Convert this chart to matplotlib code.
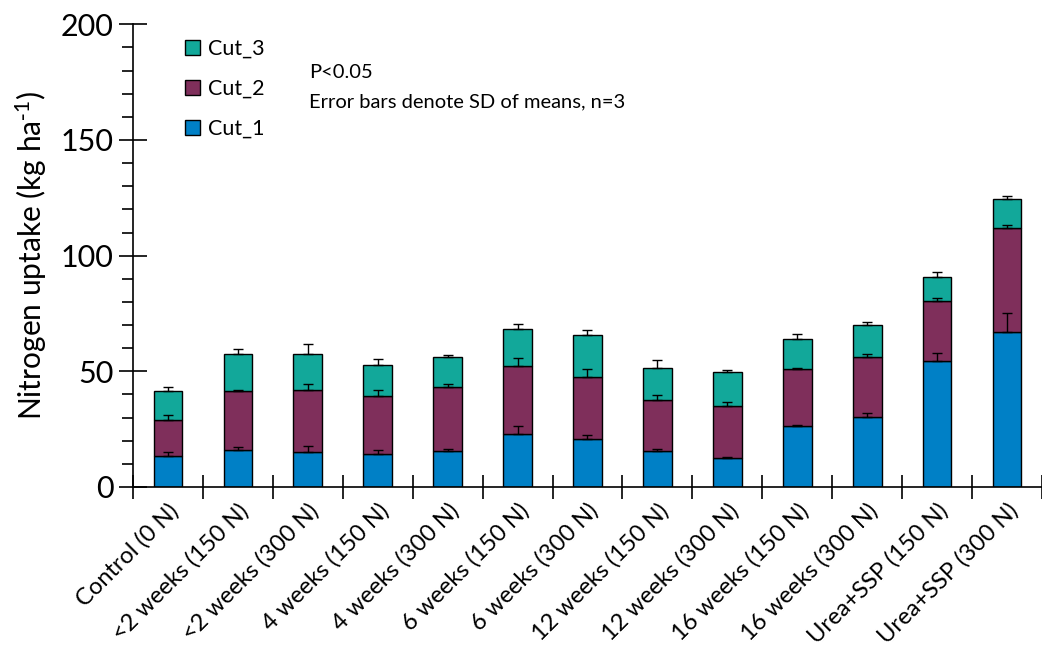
import numpy as np
import matplotlib.pyplot as plt
from matplotlib.ticker import MultipleLocator

plt.rcParams['font.family'] = ['Lato', 'DejaVu Sans']
plt.rcParams['mathtext.default'] = 'regular'

categories = ['Control (0 N)', '<2 weeks (150 N)', '<2 weeks (300 N)',
              '4 weeks (150 N)', '4 weeks (300 N)', '6 weeks (150 N)',
              '6 weeks (300 N)', '12 weeks (150 N)', '12 weeks (300 N)',
              '16 weeks (150 N)', '16 weeks (300 N)', 'Urea+SSP (150 N)',
              'Urea+SSP (300 N)']

# values per cut
cut1 = [13.3, 16.2, 15.3, 14.4, 15.7, 22.9, 20.9, 15.4, 12.4, 26.5, 30.4, 54.5, 67.2]
cut2 = [15.8, 25.3, 26.8, 25.1, 27.7, 29.6, 26.8, 22.4, 22.5, 24.4, 25.6, 26.1, 44.6]
cut3 = [12.4, 15.9, 15.2, 13.4, 13.0, 15.8, 17.8, 13.5, 14.6, 13.0, 14.2, 10.2, 12.6]
sd1 = [1.8, 1.0, 2.2, 1.8, 0.9, 3.4, 1.5, 1.0, 0.7, 0.2, 1.5, 3.5, 8.2]
sd2 = [2.0, 0.6, 2.2, 2.5, 0.9, 3.3, 3.3, 1.9, 1.9, 0.6, 1.4, 1.2, 1.3]
sd3 = [1.9, 2.3, 4.3, 2.6, 0.7, 2.2, 2.3, 3.5, 1.0, 2.1, 1.0, 2.2, 1.2]

colors = ['#0080c6', '#7f2f5b', '#12a89a']

fig = plt.figure(figsize=(10.42, 6.5), dpi=100)
ax = fig.add_axes([0.1276, 0.2508, 0.8724, 0.7118])

x = np.arange(len(categories))
w = 0.41
b1 = np.array(cut1)
b2 = b1 + np.array(cut2)
zero = np.zeros(len(x))
ekw = dict(ecolor='black', elinewidth=1.0, capsize=3.5, capthick=1.0, fmt='none', zorder=3)
ax.bar(x, cut1, w, color=colors[0], edgecolor='black', linewidth=1.0, label='Cut_1', zorder=2)
ax.bar(x, cut2, w, bottom=b1, color=colors[1], edgecolor='black', linewidth=1.0, label='Cut_2', zorder=2)
ax.bar(x, cut3, w, bottom=b2, color=colors[2], edgecolor='black', linewidth=1.0, label='Cut_3', zorder=2)
ax.errorbar(x, b1, yerr=[zero, sd1], **ekw)
ax.errorbar(x, b2, yerr=[zero, sd2], **ekw)
ax.errorbar(x, b2 + np.array(cut3), yerr=[zero, sd3], **ekw)

ax.set_xlim(-0.5, 12.5)
ax.set_ylim(0, 200)
ax.yaxis.set_major_locator(MultipleLocator(50))
ax.yaxis.set_minor_locator(MultipleLocator(10))
ax.set_xticks(x)
ax.set_xticklabels(categories, rotation=45, ha='right', rotation_mode='anchor', fontsize=17)
ax.tick_params(axis='x', length=0, pad=9)
ax.set_xticks(np.arange(-0.5, 12.6, 1), minor=True)
ax.tick_params(axis='x', which='minor', direction='inout', length=17, width=1.2)
ax.tick_params(axis='y', which='major', direction='inout', length=20, width=1.2, labelsize=22, pad=4)
ax.tick_params(axis='y', which='minor', direction='out', length=8, width=1.2)
for s in ['top', 'right']:
    ax.spines[s].set_visible(False)
for s in ['left', 'bottom']:
    ax.spines[s].set_linewidth(1.2)

ax.set_ylabel('Nitrogen uptake (kg ha$^{\\text{-}1}$)', fontsize=21.5, labelpad=8)

h, l = ax.get_legend_handles_labels()
ax.legend(h[::-1], l[::-1], loc='upper left', bbox_to_anchor=(0.036, 1.01), frameon=False,
          fontsize=15.5, handlelength=0.7, handleheight=0.7, handletextpad=0.35,
          labelspacing=0.92)

ax.text(0.194, 0.895, 'P<0.05', transform=ax.transAxes, fontsize=14.5, va='center')
ax.text(0.194, 0.832, 'Error bars denote SD of means, n=3', transform=ax.transAxes,
        fontsize=14.5, va='center')

fig.savefig('out.png', dpi=100)
